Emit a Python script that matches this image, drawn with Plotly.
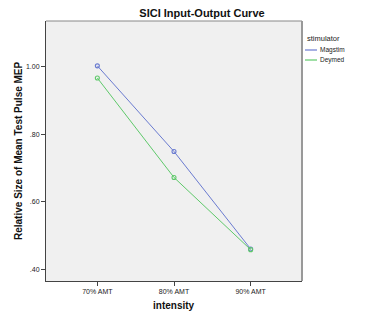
import plotly.graph_objects as go

categories = ["70% AMT", "80% AMT", "90% AMT"]
magstim = [1.003, 0.749, 0.460]
deymed = [0.967, 0.672, 0.458]
series_names = ["Magstim", "Deymed"]
colors = ["#6a7bd0", "#5ec96a"]
y_ticks = [0.40, 0.60, 0.80, 1.00]
y_tick_labels = [".40", ".60", ".80", "1.00"]

L, R, T, B, W, H = 46, 63, 21, 35, 365, 316
PW, PH = W - L - R, H - T - B


def px(x):
    return (x - L) / PW


def py(y):
    return (H - B - y) / PH


fig = go.Figure()
for name, vals, c in zip(series_names, [magstim, deymed], colors):
    fig.add_trace(go.Scatter(
        x=list(range(len(categories))), y=vals, name=name, mode="lines+markers",
        line=dict(color=c, width=1),
        marker=dict(symbol="circle-open", size=4, color=c, line=dict(width=1.1)),
        showlegend=False))

font = "Liberation Sans, Arial, sans-serif"
fig.update_layout(
    width=W, height=H,
    margin=dict(l=L, r=R, t=T, b=B, autoexpand=False),
    paper_bgcolor="white", plot_bgcolor="#f0f0f0",
    font=dict(family=font, size=8, color="#222"),
    title=dict(text="<b>SICI Input-Output Curve</b>", x=202 / W, xanchor="center",
               y=1 - 13 / H, yanchor="middle", font=dict(size=11, color="#111")),
    xaxis=dict(range=[-0.67, 2.67], tickmode="array", tickvals=list(range(3)), ticktext=categories,
               showgrid=False, zeroline=False, showline=True, linecolor="#444", linewidth=1,
               ticks="outside", ticklen=4, tickcolor="#444", tickfont=dict(size=7),
               automargin=False),
    yaxis=dict(range=[0.365, 1.136], tickmode="array", tickvals=y_ticks, ticktext=y_tick_labels,
               showgrid=False, zeroline=False, showline=True, linecolor="#444", linewidth=1,
               ticks="outside", ticklen=4, tickcolor="#444", tickfont=dict(size=7),
               automargin=False),
)
# axis titles
fig.add_annotation(text="<b>intensity</b>", xref="paper", yref="paper", x=px(174), y=py(305),
                   xanchor="center", yanchor="middle", showarrow=False,
                   font=dict(size=10, color="#111"))
fig.add_annotation(text="<b>Relative Size of Mean Test Pulse MEP</b>", xref="paper", yref="paper",
                   x=px(18), y=py(151), xanchor="center", yanchor="middle", textangle=-90,
                   showarrow=False, font=dict(size=10, color="#111"))

# top and right frame
fig.add_shape(type="line", xref="paper", yref="paper", x0=0, x1=1, y0=1, y1=1,
              line=dict(color="#888", width=1))
fig.add_shape(type="line", xref="paper", yref="paper", x0=1, x1=1, y0=0, y1=1,
              line=dict(color="#999", width=2))

# manual legend
fig.add_annotation(text="stimulator", xref="paper", yref="paper", x=px(305),
                   y=py(38), xanchor="left", yanchor="middle", showarrow=False,
                   font=dict(size=7.5, color="#222"))
for i, (name, c) in enumerate(zip(series_names, colors)):
    yp = py(50 + 10 * i)
    fig.add_shape(type="line", xref="paper", yref="paper", x0=px(305),
                  x1=px(317), y0=yp, y1=yp, line=dict(color=c, width=1.2))
    fig.add_annotation(text=name, xref="paper", yref="paper", x=px(318), y=yp,
                       xanchor="left", yanchor="middle", showarrow=False,
                       font=dict(size=6.5, color="#222"))

fig.write_html("out.html", config={"displayModeBar": False},
               post_script="document.body.style.margin='0';document.body.style.overflow='hidden';")
